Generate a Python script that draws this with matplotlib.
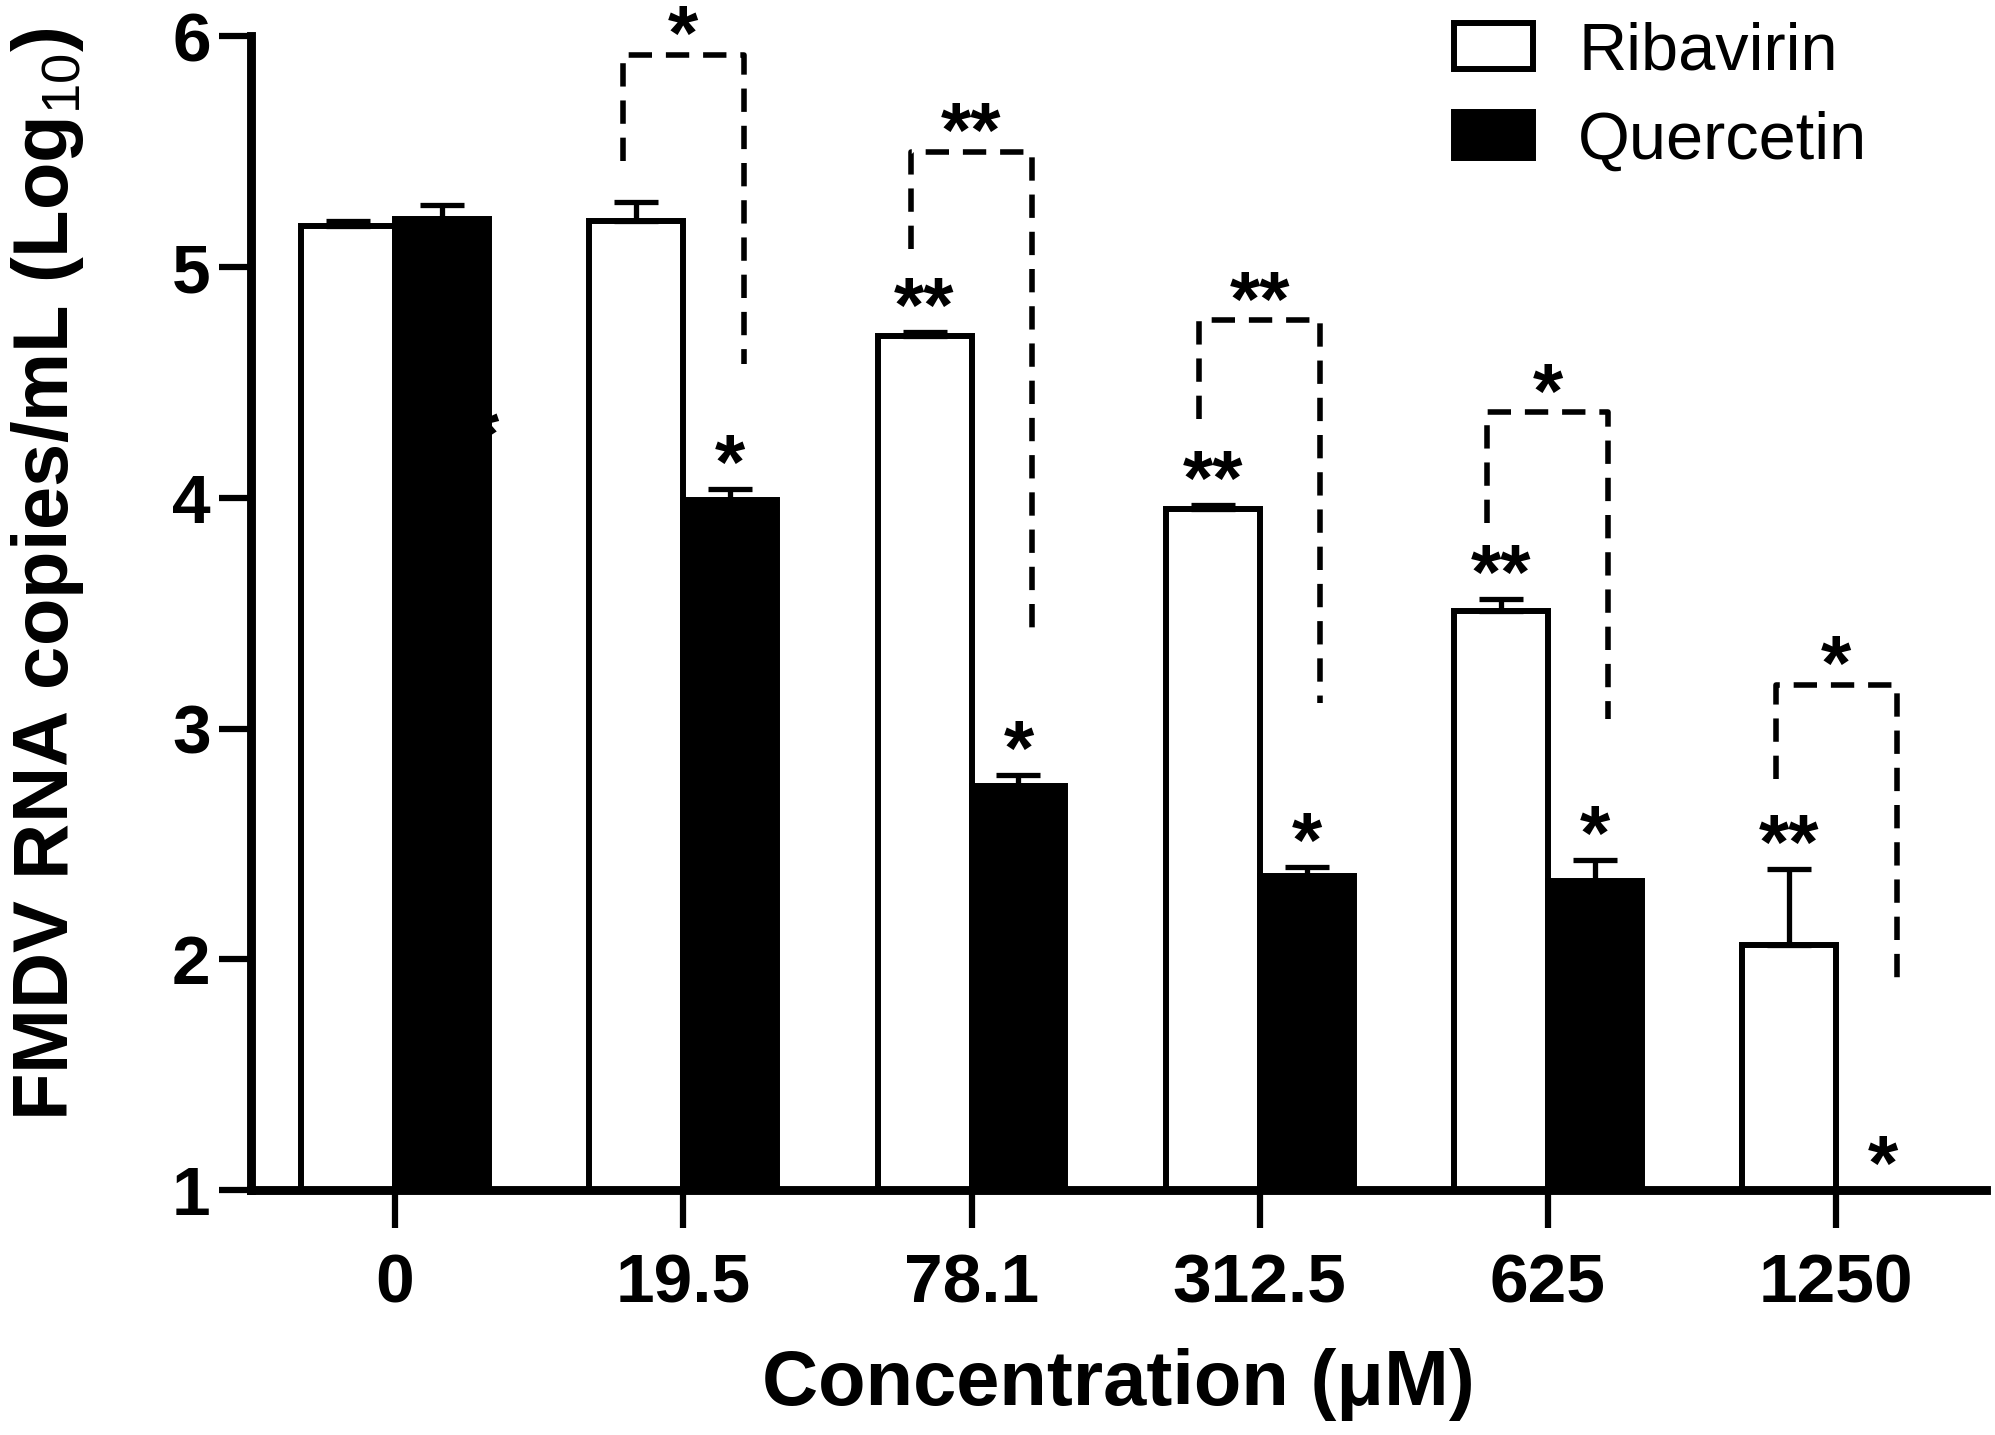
import numpy as np
import matplotlib
matplotlib.use("Agg")
import matplotlib.pyplot as plt

# ==============================
# 字体设置 (Arial 的替代: Liberation Sans)
# ==============================
plt.rcParams['font.family'] = ['Liberation Sans', 'DejaVu Sans']
plt.rcParams['mathtext.fontset'] = 'custom'
plt.rcParams['mathtext.rm'] = 'Liberation Sans'
plt.rcParams['mathtext.bf'] = 'Liberation Sans:bold'
plt.rcParams['axes.unicode_minus'] = False

# ==============================
# 数据
# ==============================
concentrations = ["0", "19.5", "78.1", "312.5", "625", "1250"]
ribavirin = [5.18, 5.20, 4.70, 3.95, 3.51, 2.06]
ribavirin_err = [0.02, 0.08, 0.02, 0.02, 0.05, 0.33]
quercetin = [5.21, 3.99, 2.75, 2.36, 2.34, 1.00]
quercetin_err = [0.06, 0.05, 0.05, 0.04, 0.09, 0.00]

# 各柱上方的显著性标记
ribavirin_sig = ["", "", "**", "**", "**", "**"]
quercetin_sig = ["", "*", "*", "*", "*", "*"]

# 组间比较的虚线括号 (组序号, 左端底部 y, 右端底部 y, 顶部 y, 标记)
bracket_group = [1, 2, 3, 4, 5]
bracket_left_low = [5.46, 5.08, 4.34, 3.89, 2.78]
bracket_right_low = [4.58, 3.40, 3.11, 3.04, 1.87]
bracket_top = [5.92, 5.50, 4.77, 4.37, 3.19]
bracket_sig = ["*", "**", "**", "*", "*"]

# ==============================
# 绘图
# ==============================
fig = plt.figure(figsize=(19.95, 14.35), dpi=100)
ax = fig.add_axes([0.1258, 0.1707, 0.8697, 0.804])

x = np.arange(len(concentrations))
w = 0.326

bars_r = ax.bar(x - w / 2, ribavirin, width=w, color='white', edgecolor='black',
                linewidth=4.3, label='Ribavirin', zorder=2)
bars_q = ax.bar(x + w / 2, quercetin, width=w, color='black', edgecolor='black',
                linewidth=4.3, label='Quercetin', zorder=2)

# 仅向上的误差线
ax.errorbar(x - w / 2, ribavirin, yerr=[np.zeros(len(x)), ribavirin_err], fmt='none',
            ecolor='black', elinewidth=3.8, capsize=16, capthick=3.8, zorder=3)
ax.errorbar(x + w / 2, quercetin, yerr=[np.zeros(len(x)), quercetin_err], fmt='none',
            ecolor='black', elinewidth=3.8, capsize=16, capthick=3.8, zorder=3)

# 柱上方星号
star_fs = 56
for i in range(len(x)):
    if ribavirin_sig[i]:
        ax.annotate(ribavirin_sig[i], (x[i] - w / 2, ribavirin[i] + ribavirin_err[i]),
                    xytext=(0, 0), textcoords='offset points', ha='center', va='baseline',
                    fontsize=star_fs, fontweight='bold', zorder=4)
    if quercetin_sig[i]:
        ax.annotate(quercetin_sig[i], (x[i] + w / 2, quercetin[i] + quercetin_err[i]),
                    xytext=(0, 0), textcoords='offset points', ha='center', va='baseline',
                    fontsize=star_fs, fontweight='bold', zorder=4)

# 被黑柱遮住的一个星号 (原图中只露出右边一部分)
ax.text(0.31, 4.25, "*", ha='center', va='center', fontsize=star_fs,
        fontweight='bold', zorder=1)

# 虚线括号
dash = (0, (4.2, 2.5))
for g, yl, yr, yt, s in zip(bracket_group, bracket_left_low, bracket_right_low,
                            bracket_top, bracket_sig):
    xl, xr = g - 0.21, g + 0.21
    ax.plot([xl, xl, xr, xr], [yl, yt, yt, yr], color='black', linewidth=4.0,
            linestyle=dash, clip_on=False, zorder=3)
    ax.annotate(s, (g, yt), xytext=(0, -4), textcoords='offset points', ha='center',
                va='baseline', fontsize=star_fs, fontweight='bold', annotation_clip=False)

# 坐标轴
ax.set_xlim(-0.5, 5.52)
ax.set_ylim(1, 6)
ax.set_yticks([1, 2, 3, 4, 5, 6])
ax.set_xticks(x)
ax.set_xticklabels(concentrations)

ax.set_xlabel("Concentration (μM)", fontsize=56, fontweight='bold', labelpad=23)
ax.set_ylabel("FMDV RNA copies/mL (Log$_{\\mathrm{10}}$)", fontsize=56,
              fontweight='bold')
ax.yaxis.set_label_coords(-0.095, 0.534)

for label in ax.get_xticklabels() + ax.get_yticklabels():
    label.set_fontsize(50)
    label.set_fontweight('bold')

ax.spines['top'].set_visible(False)
ax.spines['right'].set_visible(False)
ax.spines['left'].set_linewidth(6.4)
ax.spines['bottom'].set_linewidth(6.4)
ax.tick_params(axis='y', direction='out', length=23, width=4.5, pad=6)
ax.tick_params(axis='x', direction='out', length=27, width=4.5, pad=18)

ax.legend(handles=[bars_r, bars_q], loc='upper left', bbox_to_anchor=(0.729, 0.985),
          bbox_transform=fig.transFigure, frameon=False, fontsize=48,
          handlelength=1.18, handleheight=0.68, handletextpad=0.68,
          labelspacing=0.40, borderpad=0, borderaxespad=0)

fig.savefig("out.png", dpi=100)
